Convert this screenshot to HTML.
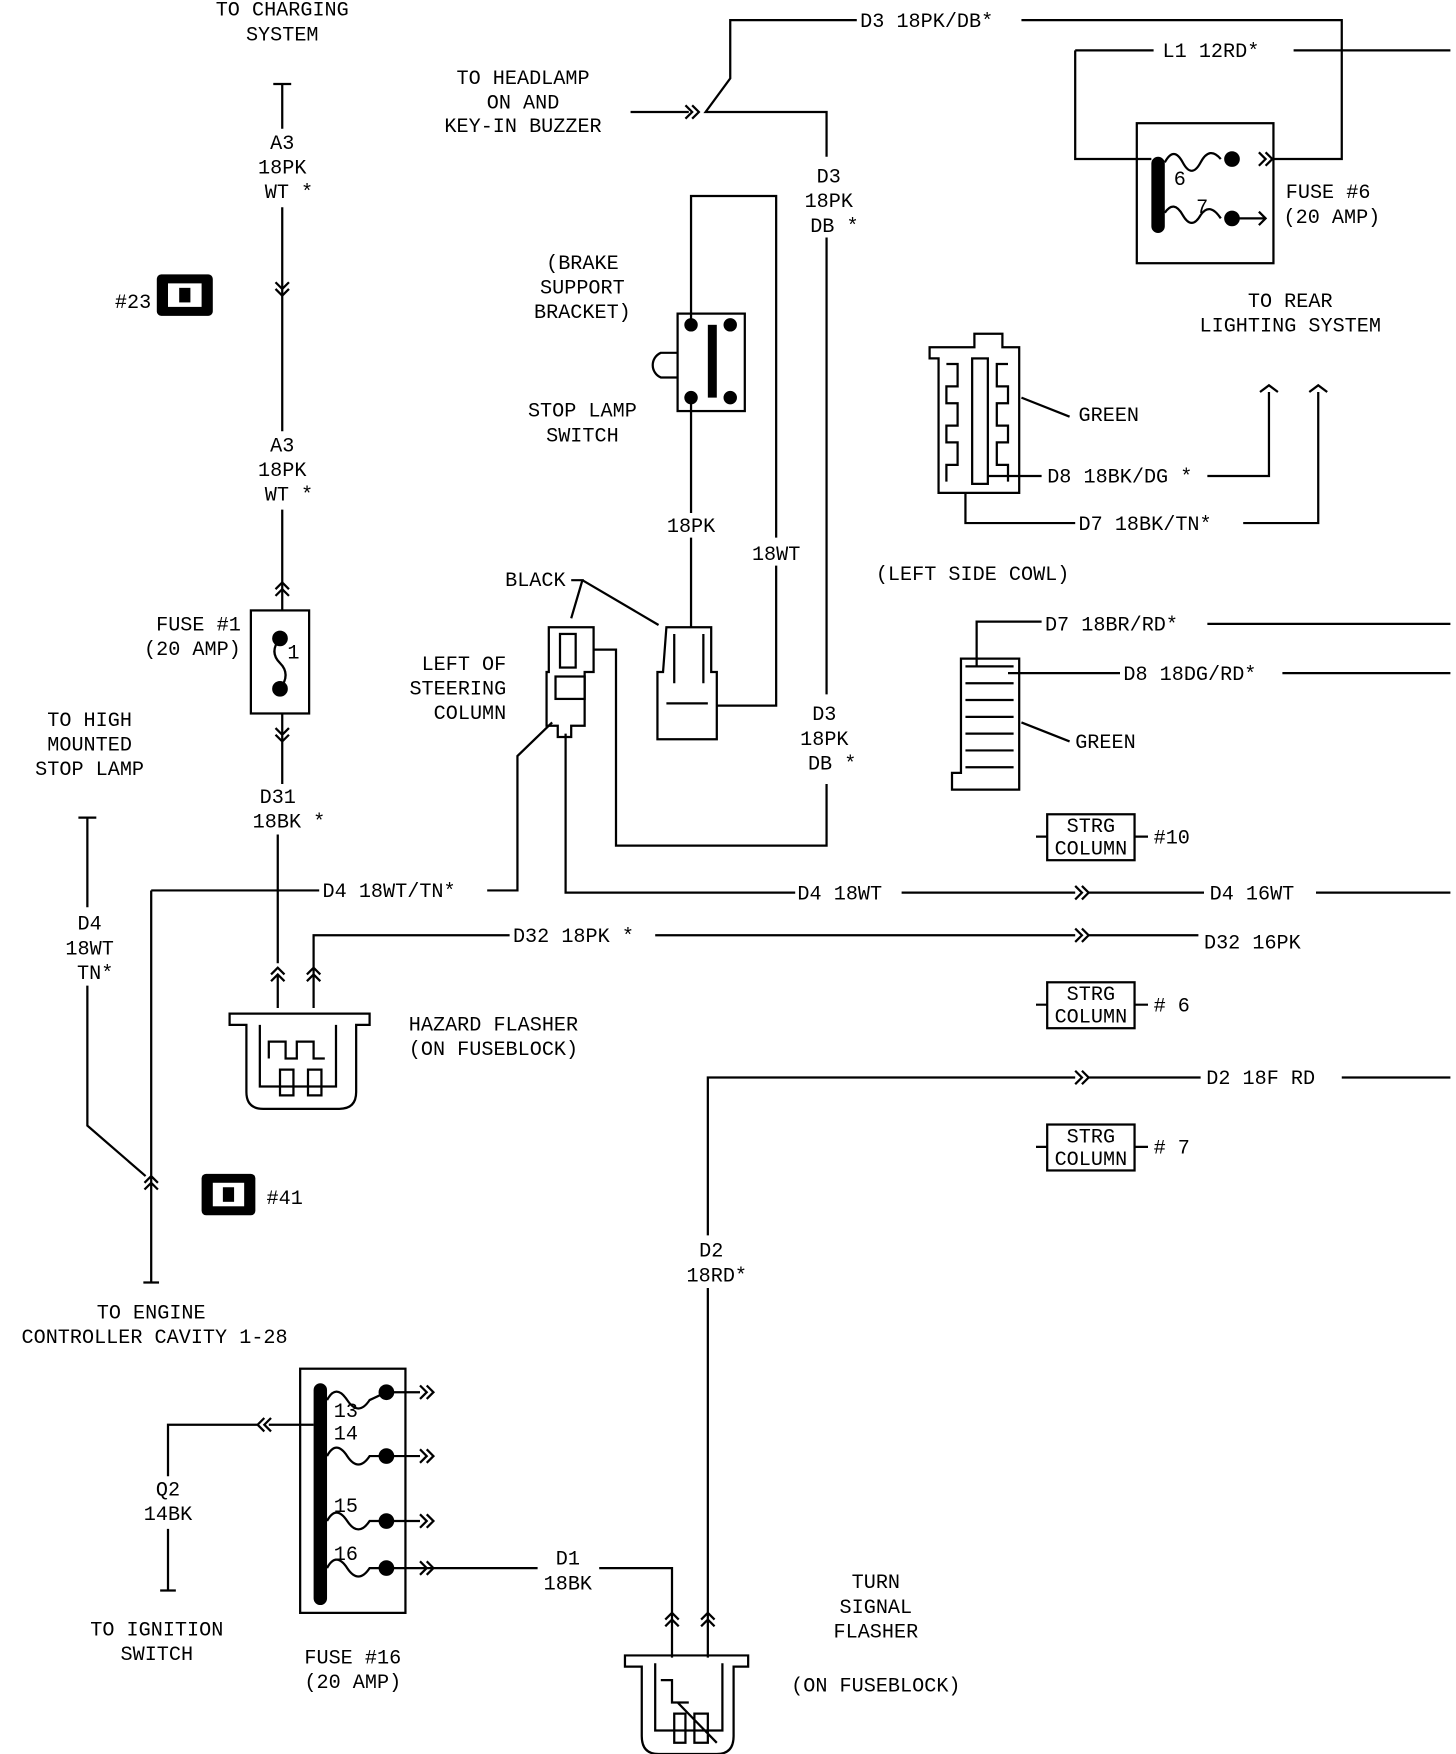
<!DOCTYPE html>
<html><head><meta charset="utf-8"><style>
html,body{margin:0;padding:0;background:#fff;}
svg{display:block}
text{font-family:"Liberation Mono",monospace;font-size:18px;fill:#000;}
</style></head><body>
<svg width="1456" height="1754" viewBox="0 0 1300 1566" preserveAspectRatio="none" xmlns="http://www.w3.org/2000/svg">
<g fill="none" stroke="#000" stroke-width="2">
<path d="M244 75 H260 M252 75 V115 M252 185 V385 M252 455 V545"/>
<path d="M246 252 L252 258 L258 252 M246 258 L252 264 L258 258"/>
<path d="M246 526 L252 520 L258 526 M246 532 L252 526 L258 532"/>
<rect x="224" y="545" width="52" height="92"/>
<path d="M252 637 V700 M246 650 L252 656 L258 650 M246 656 L252 662 L258 656"/>
<path d="M248 745 V860 M242 870 L248 864 L254 870 M242 876 L248 870 L254 876 M248 870 V900"/>
<path d="M280 870 V835 H455 M274 870 L280 864 L286 870 M274 876 L280 870 L286 876 M280 870 V900"/>
<path d="M585 835 H960 M960 829 L966 835 L960 841 M966 829 L972 835 L966 841 M972 835 H1070"/>
<path d="M205 905 H330 V915 H318 V975 Q318 990 303 990 H235 Q220 990 220 975 V915 H205 Z"/>
<path d="M232 915 V970 H300 V915 M240 945 V930 H255 V945 H265 V930 H280 V945 H290 M250 955 V978 H262 V955 Z M275 955 V978 H287 V955 Z"/>
<path d="M135 795 H285 M435 795 H462 V675 L493 645"/>
<path d="M135 795 V1145 M128 1145 H142 M129 1056 L135 1050 L141 1056 M129 1062 L135 1056 L141 1062"/>
<path d="M70 730 H86 M78 730 V810 M78 880 V1005 L130 1050"/>
<path d="M505 655 V797 H710 M805 797 H960 M960 791 L966 797 L960 803 M966 791 L972 797 L966 803 M972 797 H1075 M1175 797 H1295"/>
<path d="M632 1440 V1150 M632 1103 V962 H960 M960 956 L966 962 L960 968 M966 956 L972 962 L966 968 M972 962 H1072 M1198 962 H1295"/>
<path d="M490 560 H530 V600 H522 V648 H510 V658 H498 V648 H488 V600 H490 Z"/>
<rect x="500" y="566" width="14" height="30"/>
<rect x="496" y="604" width="26" height="20"/>
<path d="M530 580 H550 V755 H738 V700 M738 620 V212 M738 140 V100 H655 L630 100 L652 70 V18 H765 M912 18 H1198 V142 H1135"/>
<path d="M563 100 H615 M612 94 L618 100 L612 106 M618 94 L624 100 L618 106"/>
<path d="M1130 136 L1136 142 L1130 148 M1124 136 L1130 142 L1124 148"/>
<path d="M595 560 H635 V600 H640 V660 H587 V600 H592 Z"/>
<path d="M602 566 V610 M628 566 V610 M595 628 H632"/>
<path d="M510 518 H520 L510 552 M520 518 L588 558"/>
<rect x="605" y="280" width="60" height="87"/>
<path d="M605 315 H590 A12 12 0 0 0 590 337 H605"/>
<path d="M617 290 V175 H693 V480 M693 505 V630 H640 M617 360 V458 M617 480 V560"/>
<path d="M1155 45 H1295 M960 45 H1030 M960 45 V142 H1028"/>
<rect x="1015" y="110" width="122" height="125"/>
<path d="M1100 195 H1130 M1124 189 L1130 195 L1124 201"/>
<path d="M1040 145 Q1048 130 1056 145 Q1064 160 1072 145 Q1080 130 1090 142 M1040 190 Q1048 178 1056 192 Q1064 206 1072 192 Q1080 180 1090 195"/>
<path d="M830 310 H870 V298 H895 V310 H910 V440 H838 V320 H830 Z"/>
<path d="M845 325 H855 V345 H845 V360 H855 V380 H845 V395 H855 V415 H845 V430 M900 325 H890 V345 H900 V360 H890 V380 H900 V395 H890 V415 H900 V430"/>
<rect x="868" y="320" width="14" height="112"/>
<path d="M955 372 L912 355 M882 425 H930 M1078 425 H1133 V350 M1125 350 L1133 344 L1141 350 M862 440 V467 H960 M1110 467 H1177 V350 M1169 350 L1177 344 L1185 350"/>
<path d="M858 588 H910 V705 H850 V690 H858 Z"/>
<path d="M862 595 H905 M862 610 H905 M862 625 H905 M862 640 H905 M862 655 H905 M862 670 H905 M862 685 H905 M872 595 V555 H930 M1078 557 H1295 M900 601 H1000 M1145 601 H1295 M955 662 L912 645"/>
<rect x="935" y="727" width="78" height="41"/>
<rect x="935" y="877" width="78" height="41"/>
<rect x="935" y="1004" width="78" height="41"/>
<path d="M925 747 H935 M1013 747 H1025 M925 897 H935 M1013 897 H1025 M925 1024 H935 M1013 1024 H1025"/>
<rect x="268" y="1222" width="94" height="218"/>
<path d="M240 1272 H280 M236 1266 L230 1272 L236 1278 M242 1266 L236 1272 L242 1278 M230 1272 H150 V1318 M150 1365 V1420 M143 1420 H157"/>
<path d="M292 1250 Q300 1235 310 1250 Q320 1265 330 1250 L345 1243 M292 1300 Q300 1285 310 1300 Q320 1315 330 1300 L345 1300 M292 1358 Q300 1343 310 1358 Q320 1373 330 1358 L345 1358 M292 1400 Q300 1385 310 1400 Q320 1415 330 1400 L345 1400"/>
<path d="M345 1243 H375 M345 1300 H375 M345 1358 H375 M345 1400 H480 M375 1237 L381 1243 L375 1249 M381 1237 L387 1243 L381 1249 M375 1294 L381 1300 L375 1306 M381 1294 L387 1300 L381 1306 M375 1352 L381 1358 L375 1364 M381 1352 L387 1358 L381 1364 M375 1394 L381 1400 L375 1406 M381 1394 L387 1400 L381 1406"/>
<path d="M535 1400 H600 V1480 M594 1446 L600 1440 L606 1446 M594 1452 L600 1446 L606 1452 M626 1446 L632 1440 L638 1446 M626 1452 L632 1446 L638 1452 M632 1440 V1480"/>
<path d="M558 1478 H668 V1488 H655 V1550 Q655 1566 640 1566 H588 Q573 1566 573 1550 V1488 H558 Z"/>
<path d="M585 1485 V1545 H645 V1485 M590 1500 H600 V1520 H615 M602 1530 H612 V1556 H602 Z M620 1530 H632 V1556 H620 Z M605 1520 L640 1556"/>
</g>
<g fill="#000">
<rect x="1028" y="140" width="12" height="68" rx="6"/>
<circle cx="1100" cy="142" r="7"/><circle cx="1100" cy="195" r="7"/>
<circle cx="617" cy="290" r="6"/><circle cx="617" cy="355" r="6"/><circle cx="652" cy="290" r="6"/><circle cx="652" cy="355" r="6"/>
<rect x="632" y="290" width="8" height="65"/>
<circle cx="250" cy="570" r="7"/><circle cx="250" cy="615" r="7"/>
<rect x="280" y="1235" width="12" height="198" rx="6"/>
<circle cx="345" cy="1243" r="7"/><circle cx="345" cy="1300" r="7"/><circle cx="345" cy="1358" r="7"/><circle cx="345" cy="1400" r="7"/>
<rect x="140" y="245" width="50" height="37" rx="4"/>
<rect x="180" y="1048" width="48" height="37" rx="4"/>
</g>
<g fill="#fff"><rect x="150" y="253" width="30" height="21"/><rect x="190" y="1056" width="28" height="21"/></g>
<g fill="#000"><rect x="160" y="257" width="10" height="13"/><rect x="199" y="1060" width="10" height="13"/></g>
<path d="M250 570 Q240 582 250 592 Q260 602 250 615" fill="none" stroke="#000" stroke-width="2"/>
<g text-anchor="middle">
<text x="252" y="14">TO CHARGING</text><text x="252" y="36">SYSTEM</text>
<text x="252" y="133">A3</text><text x="252" y="155">18PK</text><text x="258" y="177">WT *</text>
<text x="252" y="403">A3</text><text x="252" y="425">18PK</text><text x="258" y="447">WT *</text>
<text x="262" y="588">1</text>
<text x="248" y="717">D31</text><text x="258" y="739">18BK *</text>
<text x="80" y="648">TO HIGH</text><text x="80" y="670">MOUNTED</text><text x="80" y="692">STOP LAMP</text>
<text x="80" y="830">D4</text><text x="80" y="852">18WT</text><text x="85" y="874">TN*</text>
<text x="135" y="1177">TO ENGINE</text><text x="138" y="1199">CONTROLLER CAVITY 1-28</text>
<text x="150" y="1335">Q2</text><text x="150" y="1357">14BK</text>
<text x="140" y="1460">TO IGNITION</text><text x="140" y="1482">SWITCH</text>
<text x="315" y="1485">FUSE #16</text><text x="315" y="1507">(20 AMP)</text>
<text x="507" y="1397">D1</text><text x="507" y="1419">18BK</text>
<text x="782" y="1418">TURN</text><text x="782" y="1440">SIGNAL</text><text x="782" y="1462">FLASHER</text>
<text x="782" y="1510">(ON FUSEBLOCK)</text>
<text x="635" y="1122">D2</text><text x="640" y="1144">18RD*</text>
<text x="467" y="75">TO HEADLAMP</text><text x="467" y="97">ON AND</text><text x="467" y="118">KEY-IN BUZZER</text>
<text x="740" y="163">D3</text><text x="740" y="185">18PK</text><text x="745" y="207">DB *</text>
<text x="736" y="643">D3</text><text x="736" y="665">18PK</text><text x="743" y="687">DB *</text>
<text x="520" y="240">(BRAKE</text><text x="520" y="262">SUPPORT</text><text x="520" y="284">BRACKET)</text>
<text x="520" y="372">STOP LAMP</text><text x="520" y="394">SWITCH</text>
<text x="617" y="475">18PK</text><text x="693" y="500">18WT</text>
<text x="1152" y="274">TO REAR</text><text x="1152" y="296">LIGHTING SYSTEM</text>
<text x="974" y="743">STRG</text><text x="974" y="763">COLUMN</text>
<text x="974" y="893">STRG</text><text x="974" y="913">COLUMN</text>
<text x="974" y="1020">STRG</text><text x="974" y="1040">COLUMN</text>
</g>
<g text-anchor="end">
<text x="135" y="275">#23</text>
<text x="215" y="563">FUSE #1</text><text x="215" y="585">(20 AMP)</text>
<text x="452" y="598">LEFT OF</text><text x="452" y="620">STEERING</text><text x="452" y="642">COLUMN</text>
<text x="505" y="523">BLACK</text>
</g>
<text x="238" y="1075">#41</text>
<text x="288" y="801">D4 18WT/TN*</text>
<text x="458" y="841">D32 18PK *</text>
<text x="712" y="803">D4 18WT</text>
<text x="1080" y="803">D4 16WT</text>
<text x="1075" y="847">D32 16PK</text>
<text x="1077" y="968">D2 18F RD</text>
<text x="365" y="920">HAZARD FLASHER</text><text x="365" y="942">(ON FUSEBLOCK)</text>
<text x="768" y="24">D3 18PK/DB*</text>
<text x="1038" y="51">L1 12RD*</text>
<text x="1048" y="165" font-size="15">6</text><text x="1068" y="190" font-size="15">7</text>
<text x="1148" y="177">FUSE #6</text><text x="1146" y="199">(20 AMP)</text>
<text x="963" y="376">GREEN</text>
<text x="935" y="431">D8 18BK/DG *</text>
<text x="963" y="473">D7 18BK/TN*</text>
<text x="782" y="518">(LEFT SIDE COWL)</text>
<text x="933" y="563">D7 18BR/RD*</text>
<text x="1003" y="607">D8 18DG/RD*</text>
<text x="960" y="668">GREEN</text>
<text x="1030" y="753">#10</text><text x="1030" y="903"># 6</text><text x="1030" y="1030"># 7</text>
<text x="298" y="1265" font-size="16">13</text><text x="298" y="1285" font-size="16">14</text>
<text x="298" y="1350" font-size="16">15</text><text x="298" y="1393" font-size="16">16</text>
</svg>
</body></html>
